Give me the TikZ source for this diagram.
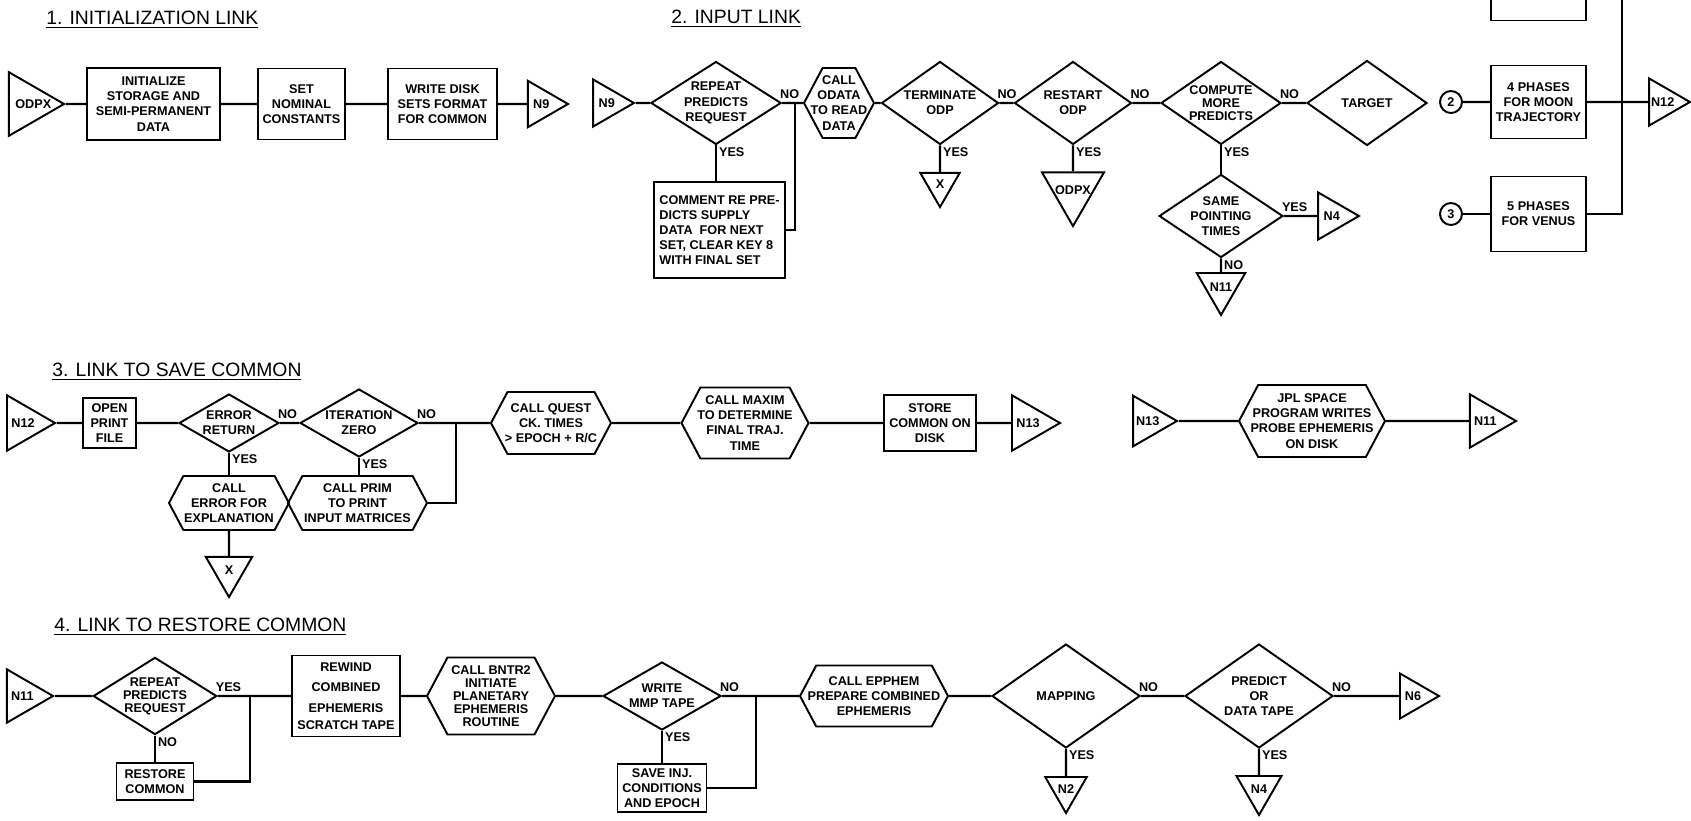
\documentclass[tikz,border=0pt]{standalone}
\usepackage{fontspec}
\setmainfont{Liberation Sans}
\usetikzlibrary{shapes.geometric,shapes.symbols}

\tikzset{
  blk/.style={draw, line width=1.1pt, font=\fontsize{7.2}{8.6}\selectfont\bfseries, align=center, inner sep=0pt},
  blkbox/.style={blk, rectangle},
  decide/.style={blk, diamond, aspect=1.6},
  hex/.style={blk, signal, signal to=east and west, signal pointer angle=124, inner xsep=-0.4cm},
  tri/.style={blk, regular polygon, regular polygon sides=3, shape border rotate=-90, inner sep=-3pt, minimum size=#1},
  trid/.style={blk, regular polygon, regular polygon sides=3, shape border rotate=180, inner sep=-3pt, minimum size=#1},
  conn/.style={blk, circle, minimum size=0.44cm},
  tight/.style={font=\fontsize{7.2}{7.4}\selectfont\bfseries},
  lbl/.style={font=\fontsize{7.2}{8}\selectfont\bfseries, inner sep=1pt},
  ttl/.style={font=\fontsize{11}{13}\selectfont, anchor=west, inner sep=0pt},
  wire/.style={line width=1.3pt}
}

\begin{document}
\begin{tikzpicture}[x=0.02cm, y=-0.02cm]
\useasboundingbox (0,0) rectangle (1691,821);
\clip (0,0) rectangle (1691,821);

% Titles
\node[ttl] (tinit) at (46,20) {\underline{1. INITIALIZATION LINK}};
\node[ttl] (tinput) at (671,19) {\underline{2. INPUT LINK}};
\node[ttl] (tsave) at (52,372) {\underline{3. LINK TO SAVE COMMON}};
\node[ttl] (trest) at (54,627) {\underline{4. LINK TO RESTORE COMMON}};

% Initialization link
\node[tri=1.47cm] (odpx) at (27.3,104) {\makebox[0pt]{\hspace{0.24cm}ODPX}};
\node[blkbox, minimum width=2.66cm, minimum height=1.44cm] (init) at (153.5,104) {INITIALIZE\\STORAGE AND\\SEMI-PERMANENT\\DATA};
\node[blkbox, minimum width=1.74cm, minimum height=1.42cm] (nominal) at (301.5,104) {SET\\NOMINAL\\CONSTANTS};
\node[blkbox, minimum width=2.18cm, minimum height=1.42cm] (wdisk) at (442.5,104) {WRITE DISK\\SETS FORMAT\\FOR COMMON};
\node[tri=1.07cm] (nine) at (541.3,104) {N9};

\draw[wire] (odpx.east) -- (init) -- (nominal) -- (wdisk) -- (nine.west);

% Input link
\node[tri=1.09cm] (ninein) at (606.7,103) {N9};
\node[decide, minimum width=2.58cm, minimum height=1.66cm] (repeat) at (716,103) {REPEAT\\PREDICTS\\REQUEST};
\node[blkbox, align=left, minimum width=2.62cm, minimum height=1.92cm] (comment) at (719.5,230) {COMMENT RE PRE-\\ DICTS SUPPLY\\DATA \ FOR NEXT\\SET, CLEAR KEY 8\\ WITH FINAL SET};
\node[hex, minimum width=1.4cm, minimum height=1.4cm] (odata) at (839,103) {CALL\\ODATA\\TO READ\\DATA};
\node[decide, minimum width=2.34cm, minimum height=1.66cm] (term) at (940,103) {TERMINATE\\ODP};
\node[trid=0.91cm] (xa) at (940,184.3) {X};
\node[decide, minimum width=2.34cm, minimum height=1.66cm] (restart) at (1073,103) {RESTART\\ODP};
\node[trid=1.39cm] (odpxb) at (1073,190.3) {ODPX};
\node[decide, tight, minimum width=2.36cm, minimum height=1.66cm] (compute) at (1221,103) {COMPUTE\\MORE\\PREDICTS};
\node[decide, minimum width=2.4cm, minimum height=1.7cm] (target) at (1367,103) {TARGET};
\node[decide, minimum width=2.44cm, minimum height=1.66cm] (same) at (1221,216) {SAME\\POINTING\\TIMES};
\node[tri=1.09cm] (nfour) at (1331.7,216) {N4};
\node[trid=1.12cm] (nelev) at (1221,287) {N11};
\coordinate (jin) at (795,103);

\draw[wire] (ninein.east) -- (repeat) -- (odata) -- (term) -- (restart) -- (compute) -- (target);
\draw[wire] (repeat.south) -- (repeat.south |- comment.north);
\draw[wire] (comment.east) -| (jin);
\draw[wire] (term.south) -- (xa.north);
\draw[wire] (restart.south) -- (odpxb.north);
\draw[wire] (compute.south) -- (same.north);
\draw[wire] (same.east) -- (nfour.west);
\draw[wire] (same.south) -- (nelev.north);

% Phases for moon and venus
\node[blkbox, minimum width=1.9cm, minimum height=1.62cm] (topbox) at (1538.5,-20) {};
\node[conn] (ctwo) at (1451,102) {2};
\node[blkbox, minimum width=1.9cm, minimum height=1.46cm] (moon) at (1538.5,102) {4 PHASES\\FOR MOON\\TRAJECTORY};
\node[conn] (cthree) at (1451,214) {3};
\node[blkbox, minimum width=1.9cm, minimum height=1.5cm] (venus) at (1538.5,214) {5 PHASES\\FOR VENUS};
\node[tri=1.09cm] (ntwelve) at (1662.7,102) {N12};
\coordinate (bus) at (1622,-10);

\draw[wire] (ctwo) -- (moon) -- (ntwelve.west);
\draw[wire] (cthree) -- (venus) -| (bus);

% Link to save common
\node[tri=1.28cm] (ntwelveb) at (23,423) {N12};
\node[blkbox, minimum width=1.06cm, minimum height=1.0cm] (openprint) at (109.5,423) {OPEN\\PRINT\\FILE};
\node[decide, minimum width=2.0cm, minimum height=1.16cm] (errret) at (229,423) {ERROR\\RETURN};
\node[decide, minimum width=2.36cm, minimum height=1.36cm] (iter) at (359,423) {ITERATION\\ZERO};
\node[hex, minimum width=2.4cm, minimum height=1.08cm] (callerr) at (229,503) {CALL\\ERROR FOR\\EXPLANATION};
\node[trid=1.07cm] (xb) at (229,570.3) {X};
\node[hex, minimum width=2.78cm, minimum height=1.08cm] (callprim) at (357.5,503) {CALL PRIM\\TO PRINT\\INPUT MATRICES};
\node[hex, minimum width=2.4cm, minimum height=1.24cm] (quest) at (551,423) {CALL QUEST\\CK. TIMES\\> EPOCH + R/C};
\node[hex, minimum width=2.54cm, minimum height=1.42cm] (maxim) at (745,423) {CALL MAXIM\\TO DETERMINE\\FINAL TRAJ.\\TIME};
\node[blkbox, minimum width=1.84cm, minimum height=1.12cm] (store) at (930,423) {STORE\\COMMON ON\\DISK};
\node[tri=1.28cm] (nthirteen) at (1028,423) {N13};
\coordinate (jsave) at (456,423);

\draw[wire] (ntwelveb.east) -- (openprint) -- (errret) -- (iter) -- (quest) -- (maxim) -- (store) -- (nthirteen.west);
\draw[wire] (errret.south) -- (callerr.north);
\draw[wire] (callerr.south) -- (xb.north);
\draw[wire] (iter.south) -- (iter.south |- callprim.north);
\draw[wire] (callprim.east) -| (jsave);

% Probe ephemeris
\node[tri=1.17cm] (nthirteenb) at (1147.7,421) {N13};
\node[hex, minimum width=2.92cm, minimum height=1.44cm] (jpl) at (1312,421) {JPL SPACE\\PROGRAM WRITES\\PROBE EPHEMERIS\\ON DISK};
\node[tri=1.23cm] (neleven) at (1485.3,421) {N11};

\draw[wire] (nthirteenb.east) -- (jpl) -- (neleven.west);

% Link to restore common
\node[tri=1.23cm] (nelevenb) at (22.3,696) {N11};
\node[decide, tight, minimum width=2.42cm, minimum height=1.42cm] (repeatb) at (155,696) {REPEAT\\PREDICTS\\REQUEST};
\node[blkbox, minimum width=1.54cm, minimum height=0.74cm] (restore) at (155,781.5) {RESTORE\\COMMON};
\node[blkbox, minimum width=2.16cm, minimum height=1.62cm] (rewind) at (346,696) {REWIND\\[3pt]COMBINED\\[3pt]EPHEMERIS\\[1pt]SCRATCH TAPE};
\node[hex, tight, minimum width=2.56cm, minimum height=1.54cm] (bntr) at (491,696) {CALL BNTR2\\INITIATE\\PLANETARY\\EPHEMERIS\\ROUTINE};
\node[decide, minimum width=2.36cm, minimum height=1.36cm] (mmp) at (662,696) {WRITE\\MMP TAPE};
\node[blkbox, minimum width=1.78cm, minimum height=0.96cm] (saveinj) at (662,788) {SAVE INJ.\\CONDITIONS\\AND EPOCH};
\node[hex, minimum width=2.96cm, minimum height=1.22cm] (epphem) at (874,696) {CALL EPPHEM\\PREPARE COMBINED\\EPHEMERIS};
\node[decide, minimum width=2.96cm, minimum height=2.08cm] (mapping) at (1066,696) {MAPPING};
\node[trid=0.96cm] (ntwo) at (1066,789) {N2};
\node[decide, minimum width=2.96cm, minimum height=2.08cm] (predict) at (1259,696) {PREDICT\\OR\\DATA TAPE};
\node[trid=1.04cm] (nfourb) at (1259,789) {N4};
\node[tri=1.04cm] (nsix) at (1413,696) {N6};
\coordinate (jrest) at (250,696);
\coordinate (jmmp) at (756,696);

\draw[wire] (nelevenb.east) -- (repeatb) -- (rewind) -- (bntr) -- (mmp) -- (epphem) -- (mapping) -- (predict) -- (nsix.west);
\draw[wire] (repeatb.south) -- (restore.north);
\draw[wire] (restore.east) -| (jrest);
\draw[wire] (mmp.south) -- (saveinj.north);
\draw[wire] (saveinj.east) -| (jmmp);
\draw[wire] (mapping.south) -- (ntwo.north);
\draw[wire] (predict.south) -- (nfourb.north);

% Branch labels
\foreach \n/\t in {repeat/NO, term/NO, restart/NO, compute/NO, same/YES, errret/NO, iter/NO, repeatb/YES, mmp/NO, mapping/NO, predict/NO}
  \node[lbl, anchor=south west, xshift=-0.08cm, yshift=0.04cm] (\n-r) at (\n.east) {\t};
\foreach \n/\t in {repeat/YES, term/YES, restart/YES, compute/YES, same/NO, errret/YES, iter/YES, repeatb/NO, mmp/YES, mapping/YES, predict/YES}
  \node[lbl, anchor=north west, xshift=0.02cm] (\n-d) at (\n.south) {\t};

\end{tikzpicture}
\end{document}
